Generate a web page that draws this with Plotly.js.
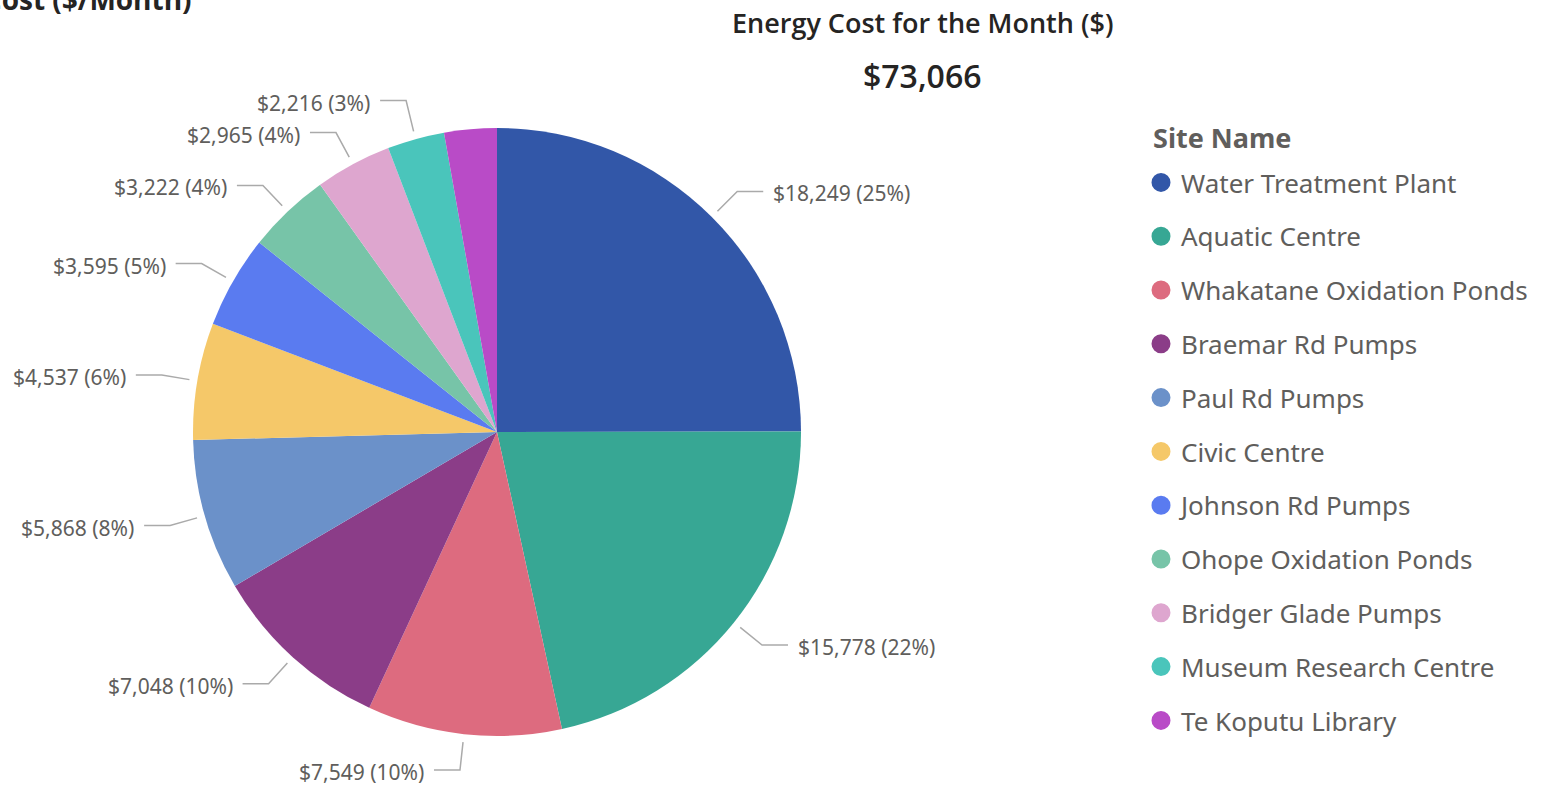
<!DOCTYPE html>
<html><head><meta charset="utf-8">
<script src="https://cdn.plot.ly/plotly-3.0.1.min.js"></script>
<style>html,body{margin:0;padding:0;background:#fff;overflow:hidden}#chart{width:1555px;height:789px}</style>
</head><body><div id="chart"></div>
<script>
// ---- data ----
const sites = ["Water Treatment Plant","Aquatic Centre","Whakatane Oxidation Ponds","Braemar Rd Pumps","Paul Rd Pumps","Civic Centre","Johnson Rd Pumps","Ohope Oxidation Ponds","Bridger Glade Pumps","Museum Research Centre","Te Koputu Library"];
const costs = [18249, 15778, 7549, 7048, 5868, 4537, 3595, 3222, 2965, 2216, 2039];
const colors = ["#3257A8","#37A794","#DD6B7F","#8B3D88","#6B91C9","#F5C869","#5A7BF0","#77C4A8","#DEA6CF","#4AC5BB","#B94BC7"];
const labelShown = [true,true,true,true,true,true,true,true,true,true,false];
const cardTitle = "Energy Cost for the Month ($)";
const clippedTitle = "Total Energy Cost ($/Month)";
const legendTitle = "Site Name";

// ---- layout constants ----
const W = 1555, H = 789;
const cx = 497, cy = 432, R = 304;
const r1 = 312, r2 = 340, hLen = 26, tGap = 8, minGap = 32;
const px = x => x / W, py = y => 1 - y / H;

const total = costs.reduce((a, b) => a + b, 0);
const fmt = v => "$" + v.toLocaleString("en-US");

// compute label positions from data
let cum = 0;
const items = costs.map((v, i) => {
  const mid = (cum + v / 2) / total; cum += v;
  const th = mid * 2 * Math.PI;
  const s = Math.sin(th), c = Math.cos(th);
  return { i, s, c, x1: cx + r1 * s, y1: cy - r1 * c, x2: cx + r2 * s, y2: cy - r2 * c,
           left: s < 0, text: fmt(v) + " (" + Math.round(v / total * 100) + "%)" };
}).filter(d => labelShown[d.i]);

// simple collision avoidance per side
["left", "right"].forEach(side => {
  const arr = items.filter(d => side === "left" ? d.left : !d.left).sort((a, b) => b.y2 - a.y2);
  for (let k = 1; k < arr.length; k++) {
    if (arr[k - 1].y2 - arr[k].y2 < minGap) arr[k].y2 = arr[k - 1].y2 - minGap;
  }
});

const shapes = [], annotations = [];
items.forEach(d => {
  const dir = d.left ? -1 : 1;
  const x3 = d.x2 + dir * hLen;
  shapes.push({ type: "path", xref: "paper", yref: "paper",
    path: `M ${px(d.x1)},${py(d.y1)} L ${px(d.x2)},${py(d.y2)} L ${px(x3)},${py(d.y2)}`,
    line: { color: "#AAAAAA", width: 1.5 } });
  annotations.push({ xref: "paper", yref: "paper", x: px(x3 + dir * tGap), y: py(d.y2 + 2),
    xanchor: d.left ? "right" : "left", yanchor: "middle", showarrow: false, text: d.text,
    font: { family: "Noto Sans, sans-serif", size: 21, color: "#605E5C" } });
});

annotations.push({ xref: "paper", yref: "paper", x: px(923), y: py(22), xanchor: "center", yanchor: "middle",
  showarrow: false, text: cardTitle, font: { family: "Open Sans, sans-serif", size: 27, color: "#252423", weight: 600 } });
annotations.push({ xref: "paper", yref: "paper", x: px(922), y: py(75), xanchor: "center", yanchor: "middle",
  showarrow: false, text: fmt(total), font: { family: "Open Sans, sans-serif", size: 32, color: "#252423", weight: 600 } });
annotations.push({ xref: "paper", yref: "paper", x: px(194), y: py(-1), xanchor: "right", yanchor: "middle",
  showarrow: false, text: clippedTitle, font: { family: "Open Sans, sans-serif", size: 28, color: "#252423", weight: 700 } });
annotations.push({ xref: "paper", yref: "paper", x: px(1151), y: py(138), xanchor: "left", yanchor: "middle",
  showarrow: false, text: legendTitle, font: { family: "Noto Sans, sans-serif", size: 27, color: "#605E5C", weight: 700 } });

const traces = [{
  type: "pie", labels: sites, values: costs, sort: false, direction: "clockwise", rotation: 0,
  marker: { colors: colors, line: { width: 0 } }, textinfo: "none", hoverinfo: "label+value+percent",
  showlegend: false,
  domain: { x: [px(cx - R), px(cx + R)], y: [py(cy + R), py(cy - R)] }
}];
sites.forEach((s, i) => traces.push({
  type: "scatter", mode: "markers", x: [null], y: [null], name: s, legendgroup: "g" + i,
  marker: { symbol: "circle", size: 16, color: colors[i], line: { color: colors[i], width: 3 } },
  hoverinfo: "skip", showlegend: true
}));

const layout = {
  width: W, height: H, margin: { l: 0, r: 0, t: 0, b: 0 },
  paper_bgcolor: "#ffffff", plot_bgcolor: "#ffffff",
  xaxis: { visible: false }, yaxis: { visible: false },
  showlegend: true,
  legend: { x: px(1141), y: py(159), xanchor: "left", yanchor: "top", tracegroupgap: 17, traceorder: "grouped",
    font: { family: "Noto Sans, sans-serif", size: 26, color: "#605E5C" }, bgcolor: "rgba(0,0,0,0)" },
  shapes: shapes, annotations: annotations
};
Plotly.newPlot("chart", traces, layout, { displayModeBar: false, staticPlot: true });
</script></body></html>
